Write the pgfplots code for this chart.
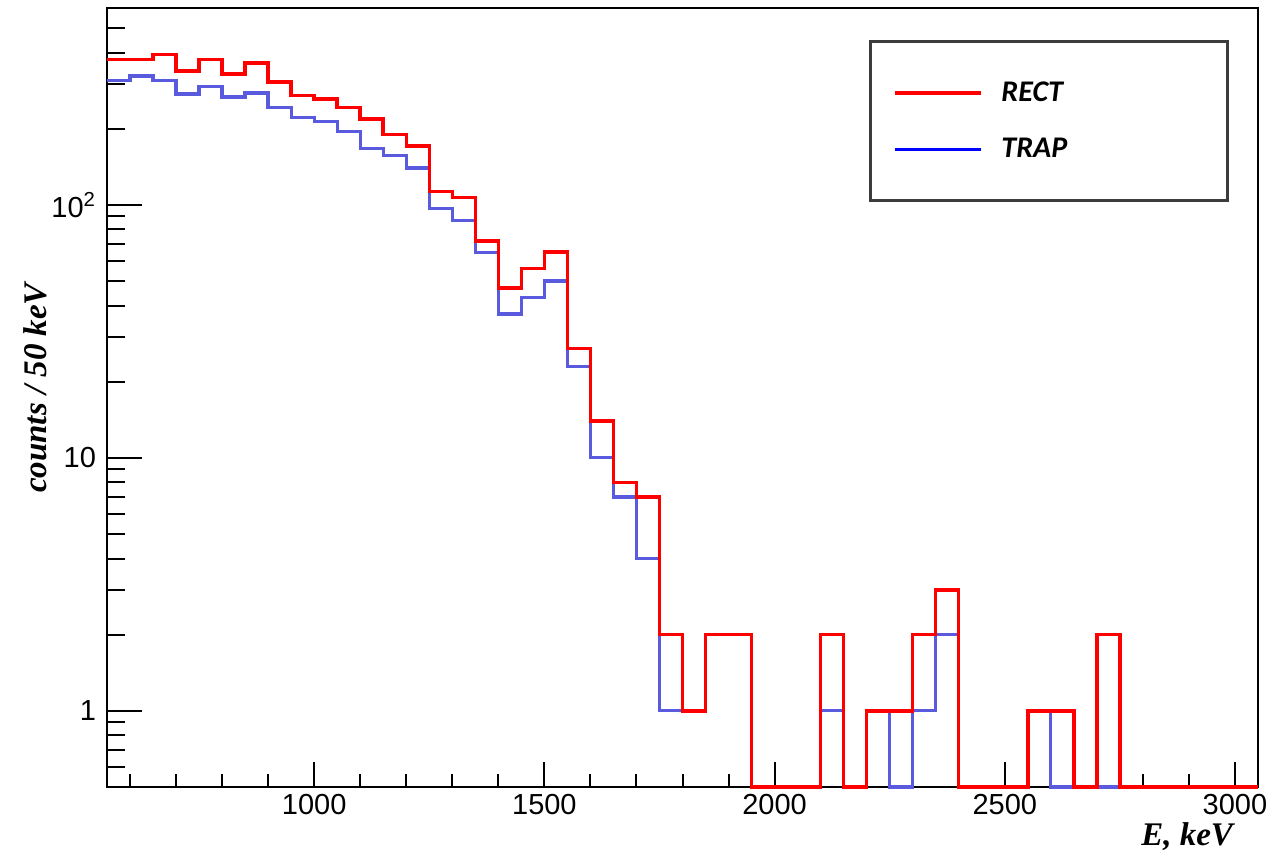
\documentclass[border=0pt]{standalone}
\usepackage{fontspec}
\setmainfont{Liberation Sans}
\newfontfamily\timesf{Liberation Serif}
\newfontfamily\carlito{Carlito}
\usepackage{pgfplots}
\usepackage{pgfplotstable}
\pgfplotsset{compat=1.18}
\definecolor{histred}{RGB}{255,0,0}
\definecolor{histblue}{RGB}{90,90,222}
\definecolor{legframe}{RGB}{60,60,60}

\pgfplotstableread{
x y
550 375
600 375
650 393
700 338
750 375
800 329
850 364
900 306
950 270
1000 262
1050 243
1100 218
1150 190
1200 171
1250 113
1300 107
1350 72
1400 47
1450 56
1500 65
1550 27
1600 14
1650 8
1700 7
1750 2
1800 1
1850 2
1900 2
1950 0.5
2000 0.5
2050 0.5
2100 2
2150 0.5
2200 1
2250 1
2300 2
2350 3
2400 0.5
2450 0.5
2500 0.5
2550 1
2600 1
2650 0.5
2700 2
2750 0.5
2800 0.5
2850 0.5
2900 0.5
2950 0.5
3000 0.5
3050 0.5
}\rectdata

\pgfplotstableread{
x y
550 311
600 323
650 311
700 274
750 293
800 267
850 277
900 242
950 221
1000 213
1050 195
1100 167
1150 157
1200 140
1250 97
1300 87
1350 65
1400 37
1450 43
1500 50
1550 23
1600 10
1650 7
1700 4
1750 1
1800 1
1850 2
1900 2
1950 0.5
2000 0.5
2050 0.5
2100 1
2150 0.5
2200 1
2250 0.5
2300 1
2350 2
2400 0.5
2450 0.5
2500 0.5
2550 1
2600 0.5
2650 0.5
2700 0.5
2750 0.5
2800 0.5
2850 0.5
2900 0.5
2950 0.5
3000 0.5
3050 0.5
}\trapdata

\begin{document}
\begin{tikzpicture}
\useasboundingbox (-53.5bp,-36bp) rectangle (582.5bp,393.5bp);
\begin{axis}[
  at={(0,0)}, anchor=south west,
  scale only axis, width=575.5bp, height=389.5bp,
  ymode=log, xmin=550, xmax=3050, ymin=0.5, ymax=600,
  axis line style={line width=1bp, black},
  tick align=inside, tick pos=left,
  xtick={1000,1500,2000,2500,3000},
  xticklabels={1000,1500,2000,2500,3000},
  minor xtick={600,700,...,3000},
  ytick={1,10,100},
  yticklabels={1,10,10\textsuperscript{2}},
  minor ytick={0.6,0.7,0.8,0.9,2,3,4,5,6,7,8,9,20,30,40,50,60,70,80,90,200,300,400,500},
  major tick length=14bp, minor tick length=7bp,
  tick style={line width=1bp, black},
  ytick style={/pgfplots/major tick length=17.5bp, /pgfplots/minor tick length=9bp},
  xtick style={/pgfplots/major tick length=12.5bp, /pgfplots/minor tick length=6.5bp},
  tick label style={font=\fontsize{14.5bp}{16bp}\selectfont},
  yticklabel style={xshift=-2bp},
  xlabel={\timesf\bfseries\itshape E, keV},
  ylabel={\timesf\bfseries\itshape counts / 50 keV},
  label style={font=\fontsize{16.5bp}{19bp}\selectfont},
  xlabel style={at={(axis description cs:0.9844,-0.0642)}, anchor=east},
  ylabel style={at={(axis description cs:-0.0626,0.5122)}, anchor=center},
  clip=false,
  reverse legend,
  legend style={at={(axis description cs:0.9748,0.9590)}, anchor=north east,
    draw=legframe, line width=1.5bp, inner xsep=11bp, inner ysep=20bp,
    row sep=17bp, column sep=9.5bp,
    font=\fontsize{15bp}{18bp}\selectfont\carlito\bfseries\itshape,
    nodes={inner sep=0pt}},
  legend cell align=left,
]
\addplot[const plot mark left, histblue, line width=1.65bp,
  legend image code/.code={\draw[blue, line width=1.5bp] (0bp,0bp) -- (43bp,0bp);}]
  table[x=x,y=y] {\trapdata};
\addlegendentry{\makebox[102bp][l]{TRAP}}
\addplot[const plot mark left, histred, line width=1.75bp,
  legend image code/.code={\draw[red, line width=1.75bp] (0bp,0bp) -- (43bp,0bp);}]
  table[x=x,y=y] {\rectdata};
\addlegendentry{\makebox[102bp][l]{RECT}}
\end{axis}
\end{tikzpicture}
\end{document}
